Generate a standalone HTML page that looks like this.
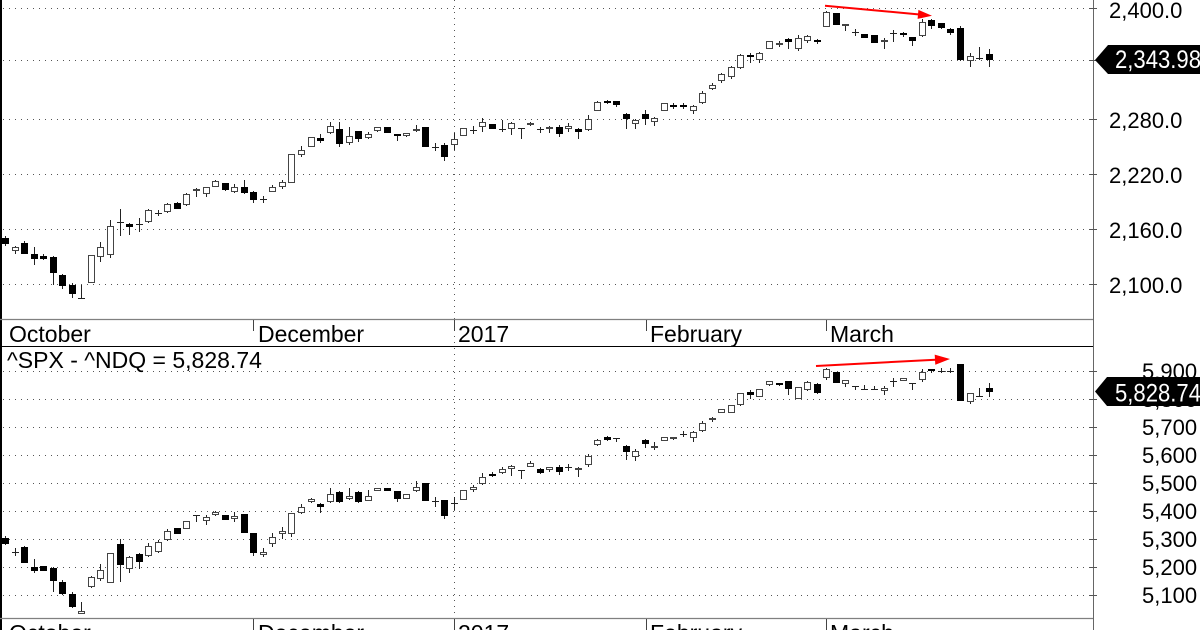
<!DOCTYPE html>
<html>
<head>
<meta charset="utf-8">
<style>
  html,body{margin:0;padding:0;background:#fff;}
  svg{display:block;}
  text{font-family:"Liberation Sans",Arial,sans-serif;fill:#000;}
</style>
</head>
<body>
<svg width="1200" height="630" viewBox="0 0 1200 630" xmlns="http://www.w3.org/2000/svg">
  <rect x="0" y="0" width="1200" height="630" fill="#fff"/>

  <!-- horizontal dotted gridlines -->
  <g stroke="#555" stroke-width="1" stroke-dasharray="1 5" fill="none">
    <path d="M3 8.5H1090M3 60.5H1090M3 119.5H1090M3 174.5H1090M3 229.5H1090M3 284.5H1090"/>
    <path d="M3 371.5H1090M3 399.5H1090M3 427.5H1090M3 455.5H1090M3 483.5H1090M3 511.5H1090M3 539.5H1090M3 567.5H1090M3 595.5H1090"/>
    <path d="M454.5 0V630"/>
  </g>

  <!-- frame lines -->
  <rect x="0" y="0" width="2" height="630" fill="#000"/>
  <path d="M0 319.5H1093" stroke="#808080" stroke-width="1.2"/>
  <path d="M0 346.5H1093" stroke="#000" stroke-width="1"/>
  <path d="M0 618.5H1093" stroke="#808080" stroke-width="1.2"/>
  <path d="M1093.5 0V630" stroke="#666" stroke-width="1"/>

  <!-- axis ticks -->
  <g stroke="#555" stroke-width="1">
    <path d="M1089 8.5h8M1089 60.5h8M1089 119.5h8M1089 174.5h8M1089 229.5h8M1089 284.5h8"/>
    <path d="M1089 371.5h8M1089 399.5h8M1089 427.5h8M1089 455.5h8M1089 483.5h8M1089 511.5h8M1089 539.5h8M1089 567.5h8M1089 595.5h8"/>
  </g>
  <!-- month ticks -->
  <g stroke="#444" stroke-width="1">
    <path d="M253.5 320V331M454.5 320V331M646.5 320V331M826.5 320V331"/>
    <path d="M253.5 619V630M454.5 619V630M646.5 619V630M826.5 619V630"/>
  </g>

  <!-- x labels -->
  <g font-size="23">
    <text x="9" y="342">October</text>
    <text x="258" y="342">December</text>
    <text x="458" y="342">2017</text>
    <text x="650" y="342">February</text>
    <text x="830" y="342">March</text>
    <text x="9" y="641">October</text>
    <text x="258" y="641">December</text>
    <text x="458" y="641">2017</text>
    <text x="650" y="641">February</text>
    <text x="830" y="641">March</text>
  </g>

  <text x="7" y="368" font-size="23">^SPX - ^NDQ = 5,828.74</text>

  <!-- right axis labels -->
  <g font-size="22">
    <text x="1109" y="18">2,400.0</text>
    <text x="1109" y="128">2,280.0</text>
    <text x="1109" y="183">2,220.0</text>
    <text x="1109" y="238">2,160.0</text>
    <text x="1109" y="293">2,100.0</text>
    <text x="1142" y="379">5,900</text>
    <text x="1142" y="407">5,800</text>
    <text x="1142" y="435">5,700</text>
    <text x="1142" y="463">5,600</text>
    <text x="1142" y="491">5,500</text>
    <text x="1142" y="519">5,400</text>
    <text x="1142" y="547">5,300</text>
    <text x="1142" y="575">5,200</text>
    <text x="1142" y="603">5,100</text>
  </g>

  <!-- TOP PANEL CANDLES -->
  <path fill="none" stroke="#222" stroke-width="1" d="M5.5 236V246M15.5 246V254M24.5 241V254M34.5 247V265M43.5 254V260M53.5 256V285M62.5 274V289M72.5 283V298M81.5 285V298M78 298.5h7M91.5 255V283M100.5 242V262M110.5 220V258M120.5 209V236M117 222.5h7M129.5 223V235M139.5 218V232M136 224.5h7M148.5 209V223M158.5 210V216M155 213.5h7M167.5 203V213M177.5 202V209M186.5 193V206M196.5 188V197M206.5 187V197M215.5 180V187M225.5 183V191M234.5 184V193M244.5 180V194M253.5 191V203M263.5 196V203M260 199.5h7M272.5 185V192M282.5 180V189M291.5 154V183M301.5 146V157M311.5 137V147M320.5 134V143M330.5 122V134M339.5 122V147M349.5 127V145M358.5 131V142M368.5 132V139M377.5 127V132M387.5 127V133M397.5 134V141M406.5 133V137M416.5 125V132M425.5 127V147M435.5 143V151M432 147.5h7M444.5 143V161M454.5 133V150M463.5 128V136M473.5 126V134M470 130.5h7M482.5 118V132M492.5 124V129M502.5 120V132M499 129.5h7M511.5 122V135M521.5 128V139M518 128.5h7M530.5 122V126M540.5 127V133M537 129.5h7M549.5 126V133M559.5 125V137M568.5 123V132M578.5 128V139M588.5 115V131M597.5 101V111M607.5 100V104M616.5 101V107M626.5 113V129M635.5 119V129M645.5 110V125M654.5 117V126M664.5 103V111M673.5 103V109M683.5 103V109M693.5 105V114M702.5 91V104M712.5 83V90M721.5 73V83M731.5 66V79M740.5 54V69M750.5 53V63M759.5 52V63M769.5 41V49M779.5 41V47M788.5 38V49M798.5 35V51M807.5 35V43M817.5 39V44M826.5 11V27M836.5 13V25M845.5 24V31M855.5 29V36M852 32.5h7M864.5 34V38M874.5 35V43M884.5 38V49M893.5 30V42M890 33.5h7M903.5 32V37M912.5 37V46M922.5 19V37M931.5 19V29M941.5 23V29M950.5 28V35M960.5 26V61M970.5 53V67M979.5 47V60M976 58.5h7M989.5 49V67"/>
  <path fill="#000" d="M2 238h7v6h-7zM21 243h7v11h-7zM31 254h7v5h-7zM40 256h7v3h-7zM50 257h7v16h-7zM59 275h7v11h-7zM69 285h7v9h-7zM126 224h7v3h-7zM174 203h7v6h-7zM222 183h7v7h-7zM241 187h7v6h-7zM250 192h7v8h-7zM317 138h7v3h-7zM336 129h7v15h-7zM355 131h7v8h-7zM384 127h7v6h-7zM394 134h7v2h-7zM422 127h7v20h-7zM441 145h7v12h-7zM489 124h7v5h-7zM556 127h7v7h-7zM575 129h7v3h-7zM604 101h7v2h-7zM613 101h7v4h-7zM623 114h7v5h-7zM642 114h7v5h-7zM670 105h7v2h-7zM680 105h7v2h-7zM747 55h7v2h-7zM785 39h7v3h-7zM814 40h7v2h-7zM833 13h7v12h-7zM861 34h7v4h-7zM871 35h7v8h-7zM900 33h7v2h-7zM909 37h7v4h-7zM928 20h7v6h-7zM938 23h7v5h-7zM947 29h7v4h-7zM957 28h7v32h-7zM986 54h7v6h-7z"/>
  <path fill="#fff" stroke="#444" stroke-width="1" d="M12.5 247.5h6v3h-6zM88.5 255.5h6v27h-6zM97.5 247.5h6v9h-6zM107.5 226.5h6v28h-6zM145.5 210.5h6v11h-6zM164.5 204.5h6v7h-6zM183.5 194.5h6v10h-6zM193.5 189.5h6v1h-6zM203.5 187.5h6v6h-6zM212.5 181.5h6v5h-6zM231.5 187.5h6v4h-6zM269.5 187.5h6v4h-6zM279.5 182.5h6v4h-6zM288.5 154.5h6v28h-6zM298.5 150.5h6v4h-6zM308.5 137.5h6v9h-6zM327.5 126.5h6v6h-6zM346.5 136.5h6v6h-6zM365.5 134.5h6v3h-6zM374.5 127.5h6v3h-6zM403.5 133.5h6v2h-6zM413.5 129.5h6v1h-6zM451.5 139.5h6v5h-6zM460.5 128.5h6v7h-6zM479.5 122.5h6v4h-6zM508.5 123.5h6v5h-6zM527.5 123.5h6v1h-6zM546.5 127.5h6v1h-6zM565.5 126.5h6v2h-6zM585.5 119.5h6v10h-6zM594.5 102.5h6v8h-6zM632.5 120.5h6v3h-6zM651.5 118.5h6v3h-6zM661.5 103.5h6v7h-6zM690.5 106.5h6v4h-6zM699.5 93.5h6v9h-6zM709.5 85.5h6v3h-6zM718.5 74.5h6v6h-6zM728.5 67.5h6v9h-6zM737.5 55.5h6v12h-6zM756.5 53.5h6v6h-6zM766.5 41.5h6v7h-6zM776.5 43.5h6v1h-6zM795.5 38.5h6v10h-6zM804.5 36.5h6v4h-6zM823.5 12.5h6v14h-6zM842.5 24.5h6v1h-6zM881.5 40.5h6v1h-6zM919.5 22.5h6v13h-6zM967.5 56.5h6v4h-6z"/>

  <!-- BOTTOM PANEL CANDLES -->
  <path fill="none" stroke="#222" stroke-width="1" d="M5.5 536V545M15.5 548V556M12 552.5h7M24.5 546V563M34.5 559V573M43.5 566V571M53.5 567V592M62.5 580V595M72.5 592V608M81.5 602V614M91.5 576V588M100.5 564V581M110.5 553V583M120.5 539V582M129.5 556V573M139.5 553V569M148.5 543V557M158.5 540V553M167.5 529V541M177.5 528V534M186.5 521V529M196.5 515V522M193 515.5h7M206.5 515V525M215.5 511V516M225.5 515V520M234.5 512V522M244.5 514V533M253.5 533V556M263.5 548V557M272.5 533V547M282.5 527V539M291.5 513V537M301.5 504V514M311.5 498V503M320.5 503V513M330.5 488V503M339.5 491V503M349.5 488V500M358.5 491V503M368.5 490V501M377.5 488V491M387.5 488V491M397.5 491V502M406.5 494V499M416.5 481V492M425.5 483V501M435.5 497V507M432 501.5h7M444.5 500V519M454.5 497V510M451 503.5h7M463.5 490V500M473.5 485V492M482.5 473V485M492.5 472V477M502.5 467V474M511.5 465V476M521.5 470V479M518 470.5h7M530.5 461V467M540.5 468V474M549.5 467V472M559.5 465V475M568.5 464V471M565 467.5h7M578.5 467V477M588.5 454V467M597.5 439V446M607.5 436V441M616.5 438V442M613 438.5h7M626.5 445V460M635.5 449V461M645.5 439V448M654.5 442V450M664.5 437V441M673.5 437V440M683.5 431V437M680 434.5h7M693.5 431V442M702.5 421V432M712.5 417V422M721.5 409V413M731.5 405V413M740.5 393V406M750.5 390V399M759.5 389V397M769.5 381V386M779.5 383V386M788.5 381V395M798.5 387V399M807.5 381V391M817.5 383V394M826.5 368V380M836.5 372V383M845.5 380V387M855.5 386V390M852 386.5h7M864.5 385V389M861 389.5h7M874.5 386V390M871 389.5h7M884.5 386V395M893.5 378V387M890 381.5h7M903.5 378V381M912.5 383V390M909 383.5h7M922.5 369V382M931.5 369V373M941.5 368V373M938 371.5h7M950.5 368V373M947 371.5h7M960.5 364V401M970.5 393V404M979.5 388V396M976 396.5h7M989.5 383V397"/>
  <path fill="#000" d="M2 538h7v6h-7zM21 547h7v16h-7zM31 567h7v4h-7zM40 566h7v5h-7zM50 568h7v13h-7zM59 582h7v12h-7zM69 594h7v13h-7zM117 544h7v21h-7zM136 554h7v8h-7zM174 528h7v6h-7zM222 515h7v5h-7zM241 514h7v19h-7zM250 533h7v20h-7zM317 504h7v3h-7zM336 492h7v10h-7zM355 492h7v10h-7zM384 488h7v3h-7zM394 491h7v8h-7zM422 483h7v18h-7zM441 500h7v16h-7zM489 474h7v2h-7zM537 469h7v4h-7zM556 467h7v5h-7zM604 437h7v3h-7zM623 446h7v6h-7zM642 440h7v4h-7zM747 392h7v3h-7zM776 383h7v2h-7zM785 381h7v8h-7zM814 384h7v9h-7zM833 372h7v11h-7zM928 369h7v2h-7zM957 364h7v37h-7zM986 388h7v4h-7z"/>
  <path fill="#fff" stroke="#444" stroke-width="1" d="M78.5 611.5h6v2h-6zM88.5 577.5h6v9h-6zM97.5 570.5h6v8h-6zM107.5 553.5h6v29h-6zM126.5 557.5h6v11h-6zM145.5 546.5h6v9h-6zM155.5 542.5h6v9h-6zM164.5 531.5h6v8h-6zM183.5 521.5h6v7h-6zM203.5 517.5h6v3h-6zM212.5 512.5h6v2h-6zM231.5 516.5h6v2h-6zM260.5 552.5h6v2h-6zM269.5 537.5h6v6h-6zM279.5 531.5h6v2h-6zM288.5 513.5h6v20h-6zM298.5 507.5h6v5h-6zM308.5 499.5h6v2h-6zM327.5 494.5h6v7h-6zM346.5 496.5h6v2h-6zM365.5 496.5h6v4h-6zM374.5 488.5h6v2h-6zM403.5 494.5h6v4h-6zM413.5 487.5h6v3h-6zM460.5 490.5h6v9h-6zM470.5 487.5h6v2h-6zM479.5 477.5h6v6h-6zM499.5 469.5h6v3h-6zM508.5 466.5h6v2h-6zM527.5 463.5h6v3h-6zM546.5 467.5h6v2h-6zM575.5 468.5h6v1h-6zM585.5 456.5h6v8h-6zM594.5 440.5h6v4h-6zM632.5 451.5h6v5h-6zM651.5 446.5h6v1h-6zM661.5 437.5h6v3h-6zM670.5 437.5h6v1h-6zM690.5 432.5h6v5h-6zM699.5 423.5h6v7h-6zM709.5 418.5h6v1h-6zM718.5 409.5h6v3h-6zM728.5 405.5h6v7h-6zM737.5 393.5h6v11h-6zM756.5 389.5h6v7h-6zM766.5 381.5h6v3h-6zM795.5 387.5h6v11h-6zM804.5 382.5h6v7h-6zM823.5 369.5h6v8h-6zM842.5 380.5h6v3h-6zM881.5 388.5h6v2h-6zM900.5 378.5h6v2h-6zM919.5 372.5h6v7h-6zM967.5 393.5h6v8h-6z"/>

  <!-- red trend arrows -->
  <path d="M825 5.7L921 14.6" stroke="#f00" stroke-width="2" fill="none"/>
  <polygon points="932,15.7 918.4,9.9 917.6,18.9" fill="#f00"/>
  <path d="M816 366L938 359.6" stroke="#f00" stroke-width="2" fill="none"/>
  <polygon points="950,359 934.7,354.6 935.3,364.8" fill="#f00"/>

  <!-- price markers -->
  <polygon points="1095,60 1108,45 1200,45 1200,74 1108,74" fill="#000"/>
  <text x="1115" y="68" font-size="25" style="fill:#fff" textLength="86" lengthAdjust="spacingAndGlyphs">2,343.98</text>
  <polygon points="1095,391.5 1107,377 1200,377 1200,406 1107,406" fill="#000"/>
  <text x="1115" y="401.5" font-size="25" style="fill:#fff" textLength="86" lengthAdjust="spacingAndGlyphs">5,828.74</text>
</svg>
</body>
</html>
